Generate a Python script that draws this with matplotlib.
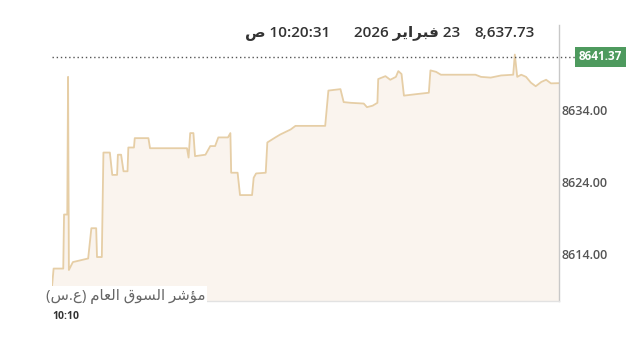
import matplotlib
matplotlib.use("Agg")
import matplotlib.pyplot as plt

# seconds after 10:10:00
secs = [0, 2, 14, 15, 19, 20, 21, 26, 45, 49, 55, 56, 62, 64, 72, 75, 81, 82, 86, 89,
        94, 95, 102, 103, 120, 122, 168, 170, 172, 176, 178, 191, 197, 203, 207, 219,
        222, 223, 231, 234, 249, 251, 254, 266, 268, 278, 284, 297, 303, 340, 344, 359,
        363, 372, 388, 392, 399, 405, 406, 415, 421, 428, 431, 435, 438, 453, 469, 471,
        478, 484, 527, 534, 546, 559, 574, 576, 579, 584, 590, 596, 602, 609, 615, 621, 631]
values = [8609.5, 8612.0, 8612.0, 8619.5, 8619.5, 8638.6, 8611.8, 8612.9, 8613.4, 8617.6,
          8617.6, 8613.6, 8613.6, 8628.1, 8628.1, 8625.0, 8625.0, 8627.8, 8627.8, 8625.5,
          8625.5, 8628.8, 8628.8, 8630.1, 8630.1, 8628.7, 8628.7, 8627.4, 8630.8, 8630.8,
          8627.6, 8627.8, 8629.0, 8629.0, 8630.2, 8630.2, 8630.8, 8625.3, 8625.3, 8622.2,
          8622.2, 8624.6, 8625.2, 8625.3, 8629.5, 8630.2, 8630.6, 8631.3, 8631.8, 8631.8,
          8636.7, 8636.9, 8635.1, 8635.0, 8634.9, 8634.4, 8634.6, 8635.0, 8638.3, 8638.7,
          8638.2, 8638.6, 8639.4, 8639.0, 8636.0, 8636.2, 8636.4, 8639.5, 8639.3, 8638.9,
          8638.9, 8638.6, 8638.5, 8638.8, 8638.9, 8641.7, 8638.6, 8638.9, 8638.6, 8637.8,
          8637.3, 8637.9, 8638.2, 8637.7, 8637.73]
yticks = [8614.00, 8624.00, 8634.00]
ref_level = 8641.37
xtick_label = "10:10"
last_value = "8,637.73"
date_text = "2026 \uFEAE\uFEF3\uFE8D\uFEAE\uFE92\uFED3 23"   # 23 فبراير 2026 (visual order)
time_text = "\uFEB9 10:20:31"                               # 10:20:31 ص
index_name = "(\uFEB1.\uFEC9) \uFEE1\uFE8E\uFECC\uFEDF\uFE8D \uFED5\uFEEE\uFEB4\uFEDF\uFE8D \uFEAE\uFEB7\uFE86\uFEE3"

FONT = ["Open Sans", "DejaVu Sans"]

fig = plt.figure(figsize=(6.4, 3.4), dpi=100)
W, H = 640, 340
ax = fig.add_axes([52 / W, (H - 301) / H, (559 - 52) / W, (301 - 25) / H])

line_c = "#e6cea6"
fill_c = "#faf4ee"
ymin, ymax = 8607.5, 8645.8
ax.fill_between(secs, values, ymin, color=fill_c, lw=0, zorder=1)
ax.plot(secs, values, color=line_c, lw=1.3, zorder=2)
ax.axhline(ref_level, color="#555555", lw=1.0, ls=(0, (1, 2)), zorder=3, clip_on=False,
           xmax=(576 - 52) / (559 - 52))

ax.set_xlim(0, 631)
ax.set_ylim(ymin, ymax)
ax.yaxis.tick_right()
ax.set_yticks(yticks)
ax.set_yticklabels([f"{v:.2f}" for v in yticks], fontsize=9, color="#555555",
                   fontweight="semibold", family=FONT)
ax.tick_params(axis="y", length=0, pad=2)
ax.set_xticks([0])
ax.set_xticklabels([xtick_label], fontsize=7.5, color="#333333", fontweight="bold",
                   family=FONT, ha="left")
ax.tick_params(axis="x", length=0, pad=7)

for s in ["top", "left"]:
    ax.spines[s].set_visible(False)
ax.spines["right"].set_color("#c8c8c8")
ax.spines["right"].set_linewidth(1.0)
ax.spines["bottom"].set_color("#e2e2e2")
ax.spines["bottom"].set_linewidth(1.0)

# green current-level label
ax.text(1.0 + 20 / 507, ref_level, f"{ref_level:.2f}", transform=ax.get_yaxis_transform(),
        ha="left", va="center", fontsize=8.5, color="white", fontweight="bold", family=FONT,
        bbox=dict(boxstyle="square,pad=0.3", fc="#4e9a5e", ec="none"), clip_on=False)

# bottom index name
fig.text(205 / W, 1 - 296 / H, index_name, ha="right", va="center", fontsize=10.8,
         color="#666666", family=FONT,
         bbox=dict(boxstyle="square,pad=0.15", fc="white", ec="none"))

# header
fig.text(535 / W, 1 - 33 / H, last_value, ha="right", va="center", fontsize=11,
         color="#333333", fontweight="semibold", family=FONT)
fig.text(460 / W, 1 - 33 / H, date_text, ha="right", va="center", fontsize=11,
         color="#333333", fontweight="semibold", family=FONT)
fig.text(330 / W, 1 - 33 / H, time_text, ha="right", va="center", fontsize=11,
         color="#333333", fontweight="semibold", family=FONT)

fig.savefig("out.png", dpi=100, facecolor="white")
